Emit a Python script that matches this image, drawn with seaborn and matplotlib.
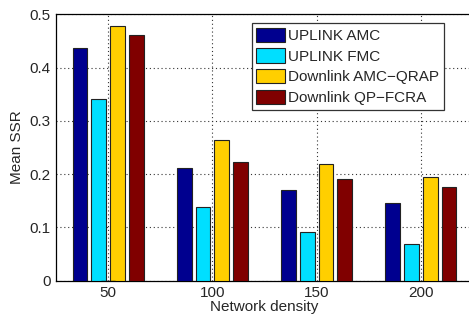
import pandas as pd
import matplotlib
matplotlib.use('Agg')
import matplotlib.pyplot as plt
import seaborn as sns

# data
densities = ['50', '100', '150', '200']
series = ['UPLINK AMC', 'UPLINK FMC', 'Downlink AMC\u2212QRAP', 'Downlink QP\u2212FCRA']
uplink_amc = [0.436, 0.211, 0.171, 0.146]
uplink_fmc = [0.341, 0.139, 0.092, 0.068]
downlink_amc_qrap = [0.478, 0.265, 0.219, 0.195]
downlink_qp_fcra = [0.462, 0.223, 0.191, 0.175]
colors = ['#00008F', '#00DFFF', '#FFCF00', '#800000']

rows = []
for name, vals in zip(series, [uplink_amc, uplink_fmc, downlink_amc_qrap, downlink_qp_fcra]):
    for d, v in zip(densities, vals):
        rows.append({'density': d, 'series': name, 'ssr': v})
df = pd.DataFrame(rows)

sns.set_style('white')
plt.rcParams['font.family'] = ['Liberation Sans', 'DejaVu Sans']

fig = plt.figure(figsize=(4.69, 3.15), dpi=100)
ax = fig.add_axes([56 / 469, (315 - 280.7) / 315, (473 - 56) / 469, (280.7 - 14.3) / 315])

sns.barplot(data=df, x='density', y='ssr', hue='series', order=densities,
            hue_order=series, palette=colors, width=0.72,
            edgecolor='#222222', linewidth=0.8, saturation=1, ax=ax, zorder=3)

# narrow each bar so there is a small gap between neighbours (MATLAB look)
bar_w = 0.14
for p in ax.patches:
    c = p.get_x() + p.get_width() / 2
    p.set_width(bar_w)
    p.set_x(c - bar_w / 2)

ax.set_xlim(-0.5, 3.5)
ax.set_ylim(0, 0.5)
ax.set_yticks([0, 0.1, 0.2, 0.3, 0.4, 0.5])
ax.set_yticklabels(['0', '0.1', '0.2', '0.3', '0.4', '0.5'])
ax.tick_params(direction='in', length=4, width=0.8, labelsize=11, color='black',
               top=False, right=False, pad=4)
ax.grid(True, linestyle=(0, (1, 2.5)), color='#333333', linewidth=0.8, zorder=0)
ax.set_axisbelow(True)
for sp in ax.spines.values():
    sp.set_color('black')
    sp.set_linewidth(0.9)

ax.set_xlabel('Network density', fontsize=11, labelpad=0)
ax.set_ylabel('Mean SSR', fontsize=11, labelpad=4)

leg = ax.legend(loc='upper left', bbox_to_anchor=(0.469, 0.9685), borderaxespad=0,
                fontsize=11, frameon=True, fancybox=False, framealpha=1,
                handlelength=1.9, handleheight=1.05, handletextpad=0.15,
                labelspacing=0.36, borderpad=0.32)
leg.get_frame().set_edgecolor('#333333')
leg.get_frame().set_linewidth(0.9)

fig.savefig('out.png', dpi=100)
